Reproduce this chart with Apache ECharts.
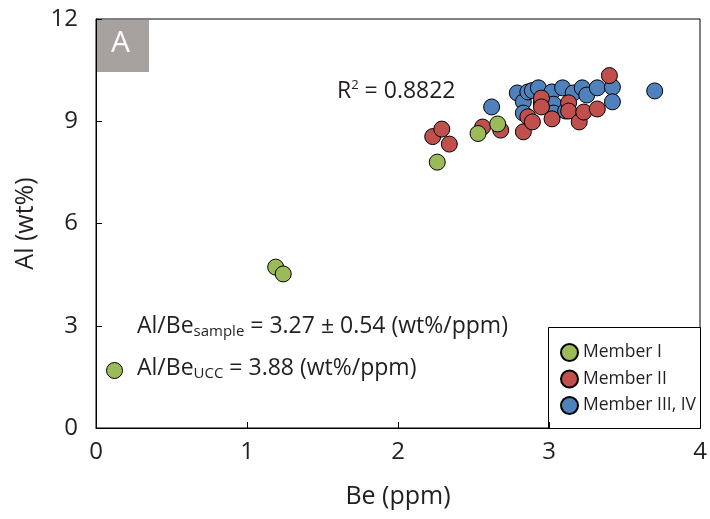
<!DOCTYPE html>
<html>
<head>
<meta charset="utf-8">
<script src="https://cdn.jsdelivr.net/npm/echarts@6/dist/echarts.min.js"></script>
<style>
  html, body { margin: 0; padding: 0; background: #fff; }
  #chart { width: 710px; height: 519px; }
</style>
</head>
<body>
<div id="chart"></div>
<script>
// Be (ppm), Al (wt%)
var memberI = [
    [1.19, 4.72], [1.24, 4.52], [2.26, 7.80], [2.53, 8.64], [2.66, 8.92]
];
var memberII = [
    [2.23, 8.55], [2.29, 8.77], [2.34, 8.33], [2.56, 8.83], [2.68, 8.74],
    [2.83, 8.69], [2.86, 9.13], [2.89, 8.98], [2.95, 9.68], [2.95, 9.42],
    [3.02, 9.07], [3.13, 9.54], [3.13, 9.30], [3.20, 8.98], [3.23, 9.27],
    [3.32, 9.36], [3.40, 10.34]
];
var memberIIIIV = [
    [2.62, 9.42], [2.79, 9.83], [2.83, 9.57], [2.83, 9.24], [2.86, 9.86],
    [2.89, 9.90], [2.93, 9.98], [2.95, 9.54], [3.02, 9.86], [3.03, 9.50],
    [3.03, 9.24], [3.09, 9.98], [3.11, 9.30], [3.16, 9.83], [3.22, 9.98],
    [3.25, 9.77], [3.32, 9.98], [3.42, 10.00], [3.42, 9.57], [3.70, 9.89]
];
var seriesNames = ['Member I', 'Member II', 'Member III, IV'];
var seriesColors = ['#9bbb59', '#c0504d', '#4f81bd'];

var font = 'Open Sans';
var ink = '#231f20';
var chart = echarts.init(document.getElementById('chart'));

function scatter(name, color, data) {
    return {
        name: name,
        type: 'scatter',
        data: data,
        symbolSize: 16,
        itemStyle: { color: color, borderColor: '#000', borderWidth: 1, opacity: 1 }
    };
}

var main = { fontSize: 23, fill: ink, fontFamily: font, lineHeight: 30 };
var sub = { fontSize: 15, fill: ink, fontFamily: font, lineHeight: 30, padding: [11, 0, 0, 0] };

var option = {
    animation: false,
    textStyle: { fontFamily: font },
    grid: {
        left: 96, right: 10, top: 19, bottom: 91,
        show: true, borderColor: '#000', borderWidth: 1
    },
    xAxis: {
        type: 'value', min: 0, max: 4, interval: 1,
        name: 'Be (ppm)', nameLocation: 'middle', nameGap: 56,
        nameTextStyle: { fontSize: 25, color: ink, fontFamily: font },
        axisLine: { lineStyle: { color: '#000', width: 1 } },
        axisTick: { inside: true, length: 6, lineStyle: { color: '#000' } },
        axisLabel: { fontSize: 24, color: ink, margin: 12 },
        splitLine: { show: false }
    },
    yAxis: {
        type: 'value', min: 0, max: 12, interval: 3,
        name: 'Al (wt%)', nameLocation: 'middle', nameGap: 58,
        nameTextStyle: { fontSize: 25, color: ink, fontFamily: font },
        axisLine: { show: true, lineStyle: { color: '#000', width: 1 } },
        axisTick: { show: true, inside: true, length: 6, lineStyle: { color: '#000' } },
        axisLabel: { fontSize: 24, color: ink, margin: 18 },
        splitLine: { show: false }
    },
    legend: {
        data: seriesNames,
        orient: 'vertical',
        left: 555, top: 338,
        itemWidth: 17, itemHeight: 17, itemGap: 7.5,
        icon: 'circle',
        textStyle: { fontSize: 17.5, color: ink, fontFamily: font }
    },
    graphic: [
        {
            type: 'rect', left: 548, top: 327, z: 0,
            shape: { width: 152, height: 101 },
            style: { fill: '#fff', stroke: '#000', lineWidth: 1 }
        },
        {
            type: 'rect', left: 97, top: 20,
            shape: { width: 52, height: 52 },
            style: { fill: '#a7a29f' }
        },
        {
            type: 'text', left: 111, top: 28,
            style: { text: 'A', fontSize: 30, fill: '#fff', fontFamily: font }
        },
        {
            type: 'text', left: 337, top: 79,
            style: {
                text: '{m|R}{p|2}{m| = 0.8822}',
                rich: {
                    m: main,
                    p: { fontSize: 13, fill: ink, fontFamily: font, lineHeight: 30, padding: [0, 0, 11, 0] }
                }
            }
        },
        {
            type: 'text', left: 137, top: 313,
            style: {
                text: '{m|Al/Be}{s|sample}{m| = 3.27 ± 0.54 (wt%/ppm)}',
                rich: { m: main, s: sub }
            }
        },
        {
            type: 'circle', left: 106, top: 362,
            shape: { r: 8 },
            style: { fill: '#9bbb59', stroke: '#000', lineWidth: 1 }
        },
        {
            type: 'text', left: 137, top: 355,
            style: {
                text: '{m|Al/Be}{s|UCC}{m| = 3.88 (wt%/ppm)}',
                rich: { m: main, s: sub }
            }
        }
    ],
    series: [
        scatter(seriesNames[2], seriesColors[2], memberIIIIV),
        scatter(seriesNames[1], seriesColors[1], memberII),
        scatter(seriesNames[0], seriesColors[0], memberI)
    ]
};

chart.setOption(option);
</script>
</body>
</html>
